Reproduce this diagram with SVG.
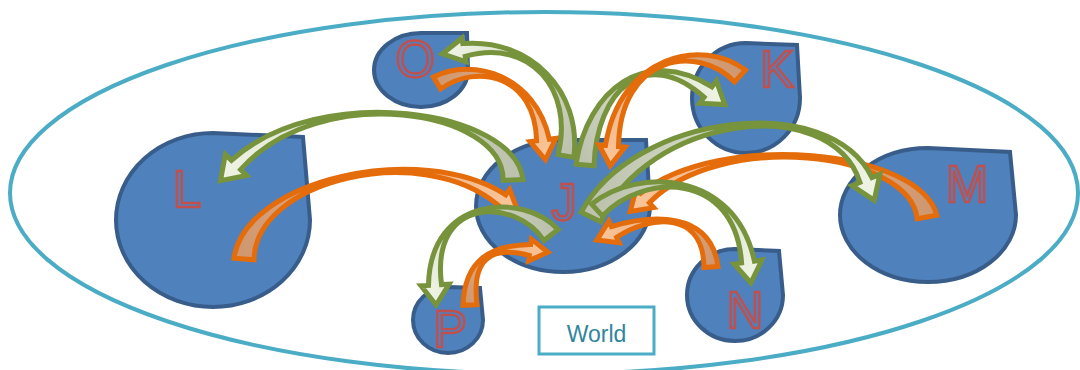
<svg xmlns="http://www.w3.org/2000/svg" width="1080" height="370" viewBox="0 0 1080 370">
<style>
.node path{fill:#4f81bd;stroke:#385d8a;stroke-width:4}
.lbl{font-family:"Liberation Sans",Arial,sans-serif;font-size:51px;fill:#4f81bd;stroke:#c0504d;stroke-width:2.4;text-anchor:middle}
.ga{stroke:#77933c;stroke-width:5;stroke-miterlimit:6}
.oa{stroke:#e46c0a;stroke-width:5;stroke-miterlimit:6}
</style>
<defs>
<linearGradient id="gG"><stop offset="0" stop-color="#bcc2ad"/><stop offset="0.5" stop-color="#d6dcc7"/><stop offset="1" stop-color="#eef3e4"/></linearGradient>
<linearGradient id="gO"><stop offset="0" stop-color="#cf9871"/><stop offset="1" stop-color="#fcc598"/></linearGradient>
<linearGradient id="g1" href="#gG" gradientUnits="userSpaceOnUse" x1="566" y1="156" x2="444" y2="54"/>
<linearGradient id="g2" href="#gG" gradientUnits="userSpaceOnUse" x1="513" y1="180" x2="222" y2="179"/>
<linearGradient id="g3" href="#gG" gradientUnits="userSpaceOnUse" x1="585" y1="165" x2="723" y2="103"/>
<linearGradient id="g4" href="#gG" gradientUnits="userSpaceOnUse" x1="591" y1="217" x2="873" y2="199"/>
<linearGradient id="g5" href="#gG" gradientUnits="userSpaceOnUse" x1="597" y1="210" x2="751" y2="281"/>
<linearGradient id="g6" href="#gG" gradientUnits="userSpaceOnUse" x1="551" y1="235" x2="436" y2="303"/>
<linearGradient id="o1" href="#gO" gradientUnits="userSpaceOnUse" x1="437" y1="83" x2="545" y2="158"/>
<linearGradient id="o2" href="#gO" gradientUnits="userSpaceOnUse" x1="244" y1="259" x2="518" y2="212"/>
<linearGradient id="o3" href="#gO" gradientUnits="userSpaceOnUse" x1="740" y1="76" x2="610" y2="165"/>
<linearGradient id="o4" href="#gO" gradientUnits="userSpaceOnUse" x1="927" y1="217" x2="631" y2="211"/>
<linearGradient id="o5" href="#gO" gradientUnits="userSpaceOnUse" x1="711" y1="267" x2="598" y2="240"/>
<linearGradient id="o6" href="#gO" gradientUnits="userSpaceOnUse" x1="470" y1="305" x2="547" y2="252"/>
</defs>
<ellipse id="world-boundary" cx="544" cy="193" rx="534" ry="181" fill="none" stroke="#4bacc6" stroke-width="4"/>
<g id="node-O" class="node"><path d="M421,33 L467,33 L468,70 A47 37 0 1 1 421,33 Z"/><text class="lbl" x="415" y="77">O</text></g>
<g id="node-L" class="node"><path d="M213,133 L303,137 L310,220 A97 87 0 1 1 213,133 Z"/><text class="lbl" x="187" y="207">L</text></g>
<g id="node-K" class="node"><path d="M746,43 L797,45 L800,98 A54 55 0 1 1 746,43 Z"/><text class="lbl" x="777" y="87">K</text></g>
<g id="node-M" class="node"><path d="M928,148 L1010,152 L1016,215 A88 67 0 1 1 928,148 Z"/><text class="lbl" x="967" y="202">M</text></g>
<g id="node-N" class="node"><path d="M735,249 L779,251 L783,295 A48 46 0 1 1 735,249 Z"/><text class="lbl" x="745" y="328">N</text></g>
<g id="node-P" class="node"><path d="M448,287 L480,288 L483,320 A35 33 0 1 1 448,287 Z"/><text class="lbl" x="450" y="347">P</text></g>
<g id="node-J" class="node"><path d="M563,140 L646,140 L650,206 A87 66 0 1 1 563,140 Z"/><text class="lbl" x="564" y="220">J</text></g>
<g id="connectors">
<path id="L-J" class="oa" fill="url(#o2)" d="M254,259.8 C255,180.4 420,140 498.2,205.2 L494.3,210.5 L518.1,211.8 L509.7,189.5 L505.8,194.8 C420,140 245,179.6 234,258.2 Z"/>
<path id="J-L" class="ga" fill="url(#g2)" d="M523,179.6 C515,109.8 320,80 231.4,160.4 L225.3,154.5 L220.5,180.6 L246.7,175.5 L240.6,169.6 C320,80 505,110.2 503,180.4 Z"/>
<path id="O-J" class="oa" fill="url(#o1)" d="M440.6,89 C476.8,63 535,75 536.6,140.8 L530.1,141.6 L545.4,159.8 L555.9,138.4 L549.4,139.2 C535,75 473.2,57 433.4,77 Z"/>
<path id="J-O" class="ga" fill="url(#g1)" d="M573.9,157.4 C581.9,90.7 530,38 462.8,43.6 L461.9,38.2 L442.4,53.9 L466.1,61.8 L465.2,56.4 C530,38 574.1,89.3 558.1,154.6 Z"/>
<path id="J-K" class="ga" fill="url(#g3)" d="M594,165.8 C596.5,90.4 645,45 704.1,97.2 L699.6,103.2 L724.8,104.6 L716.4,80.8 L711.9,86.8 C645,45 587.5,89.6 576,164.2 Z"/>
<path id="M-J" class="oa" fill="url(#o4)" d="M936.8,215.2 C919.9,149.1 720,130 640.6,193.2 L636.3,188.4 L630.2,211.4 L653.7,207.6 L649.4,202.8 C720,130 910.1,150.9 917.2,218.8 Z"/>
<path id="J-M" class="ga" fill="url(#g4)" d="M600.9,221.8 C645,117.4 830,90 860,182.4 L852.1,185.6 L874.2,200.4 L879.9,174.4 L872,177.6 C830,90 635,112.6 581.1,212.2 Z"/>
<path id="J-N" class="ga" fill="url(#g5)" d="M602.4,215.9 C642.7,172.9 735,170 741.6,262.9 L734.1,264 L750.9,282.8 L761.9,260 L754.4,261.1 C735,170 637.3,167.1 591.6,204.1 Z"/>
<path id="K-J" class="oa" fill="url(#o3)" d="M745.4,70.1 C702.7,37 620,55 605.5,145.4 L599,144.9 L610.2,165.9 L625,147.1 L618.5,146.6 C620,55 697.3,43 734.6,81.9 Z"/>
<path id="N-J" class="oa" fill="url(#o5)" d="M718,266.5 C710.5,209.8 650,215 611.4,226.6 L608.9,221.2 L596.8,240.1 L619.1,242.8 L616.6,237.4 C650,215 703.5,210.2 704,267.5 Z"/>
<path id="J-P" class="ga" fill="url(#g6)" d="M558.1,229.5 C523.6,192.2 430,195 428.5,285.4 L421,285.8 L436.1,305 L449,284.2 L441.5,284.6 C430,195 516.4,197.8 543.9,240.5 Z"/>
<path id="P-J" class="oa" fill="url(#o6)" d="M477,304.7 C471.5,259.8 490,245 529.3,255.5 L528.6,260.9 L547.9,252.2 L531.4,239.1 L530.7,244.5 C490,245 464.5,260.2 463,305.3 Z"/>
</g>
<g id="world-label">
<rect x="539" y="307" width="115" height="47" fill="#ffffff" stroke="#4bacc6" stroke-width="3"/>
<text x="596.5" y="342" font-family="'Liberation Sans',Arial,sans-serif" font-size="23" fill="#31859c" text-anchor="middle">World</text>
</g>
</svg>
